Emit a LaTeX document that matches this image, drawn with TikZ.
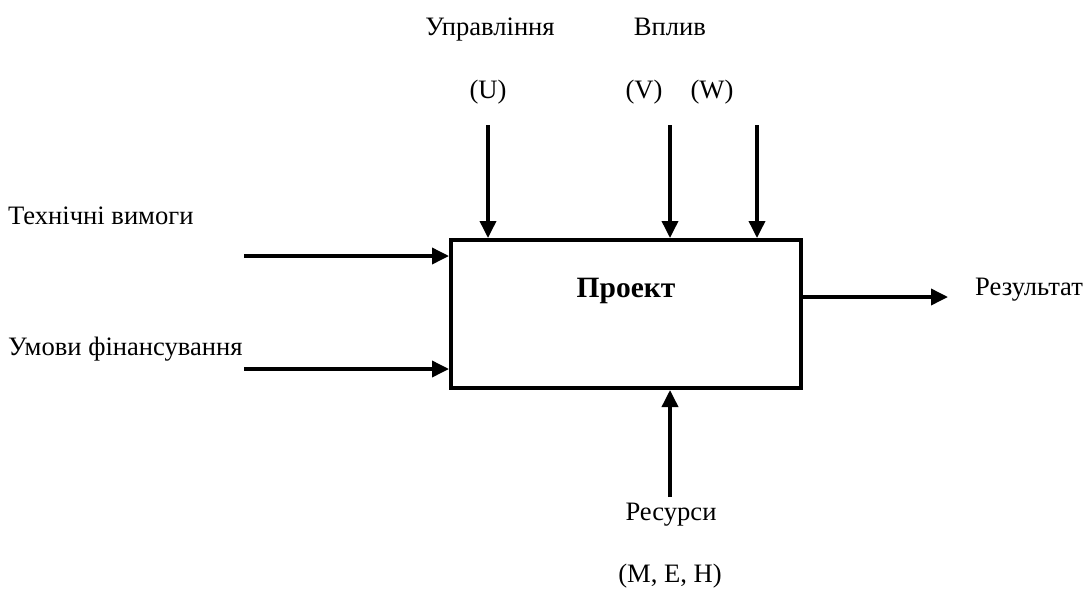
\documentclass[tikz,border=0pt]{standalone}
\usepackage{fontspec}
\setmainfont{Liberation Serif}
\usetikzlibrary{arrows.meta}
\begin{document}
\begin{tikzpicture}[x=1pt,y=-1pt,
  lbl/.style={font=\fontsize{26.6}{30}\selectfont, inner sep=0pt},
  conn/.style={line width=3.6pt, -{Triangle[length=17pt,width=16pt]}},
  boxst/.style={draw, line width=4pt, minimum width=350pt, minimum height=148pt, inner sep=0pt}]
\useasboundingbox (0,0) rectangle (1087,590);
\node[boxst] (box) at (626,314) {};
\node[lbl, font=\fontsize{29.5}{32}\selectfont\bfseries, anchor=base] (proj) at (626,297) {Проект};
% left inputs
\node[lbl, anchor=base west] (tv) at (8,224) {Технічні вимоги};
\node[lbl, anchor=base west] (uf) at (8,355) {Умови фінансування};
\coordinate (tvs) at (244,256);
\coordinate (ufs) at (244,369);
\draw[conn] (tvs) -- (tvs -| box.west);
\draw[conn] (ufs) -- (ufs -| box.west);
% top controls
\node[lbl, anchor=base] (upr) at (490,35) {Управління};
\node[lbl, anchor=base] (vpl) at (670,35) {Вплив};
\node[lbl, anchor=base] (u) at (488,98) {(U)};
\node[lbl, anchor=base] (v) at (644,98) {(V)};
\node[lbl, anchor=base] (w) at (712,98) {(W)};
\coordinate (us) at (488,125);
\coordinate (vs) at (670,125);
\coordinate (ws) at (757,125);
\draw[conn] (us) -- (us |- box.north);
\draw[conn] (vs) -- (vs |- box.north);
\draw[conn] (ws) -- (ws |- box.north);
% output
\node[lbl, anchor=base west] (res) at (975,295) {Результат};
\coordinate (re) at (948,297);
\draw[conn] (re -| box.east) -- (re);
% bottom resources
\node[lbl, anchor=base] (rs) at (671,520) {Ресурси};
\node[lbl, anchor=base] (meh) at (670,582) {(M, E, H)};
\coordinate (rss) at (670,497);
\draw[conn] (rss) -- (rss |- box.south);
\end{tikzpicture}
\end{document}
